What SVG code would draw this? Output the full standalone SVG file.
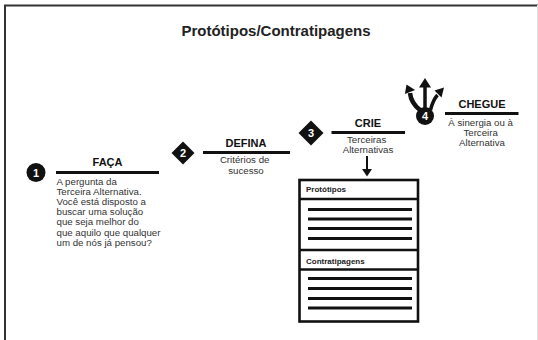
<svg xmlns="http://www.w3.org/2000/svg" width="538" height="340" viewBox="0 0 538 340">
  <style>
    .title { font: bold 15px "Liberation Sans", Arial, sans-serif; fill: #222; }
    .head { font: bold 11px "Liberation Sans", Arial, sans-serif; fill: #111; }
    .body { font: 9.7px "Liberation Sans", Arial, sans-serif; fill: #333; }
    .num { font: bold 11px "Liberation Sans", Arial, sans-serif; fill: #fff; }
    .tab { font: bold 8px "Liberation Sans", Arial, sans-serif; fill: #222; }
    .rule { stroke: #111; stroke-width: 3; fill: none; }
    .bar { stroke: #111; stroke-width: 2.6; }
  </style>

  <rect width="538" height="340" fill="#fff"/>
  <!-- frame -->
  <path d="M5,340 V5.5 H538" fill="none" stroke="#333" stroke-width="2"/>
  <line x1="537.5" y1="5" x2="537.5" y2="340" stroke="#ddd" stroke-width="1"/>

  <text class="title" x="276" y="36" text-anchor="middle">Protótipos/Contratipagens</text>

  <!-- step 1 -->
  <g id="step1">
    <circle cx="36" cy="172.5" r="9.5" fill="#111"/>
    <text class="num" x="36" y="176.5" text-anchor="middle">1</text>
    <text class="head" x="107.5" y="166" text-anchor="middle">FAÇA</text>
    <line class="rule" x1="56" y1="172.5" x2="159" y2="172.5"/>
    <text class="body" x="56.5" y="184.5">
      <tspan x="56.5" dy="0">A pergunta da</tspan>
      <tspan x="56.5" dy="10.2">Terceira Alternativa.</tspan>
      <tspan x="56.5" dy="10.2">Você está disposto a</tspan>
      <tspan x="56.5" dy="10.2">buscar uma solução</tspan>
      <tspan x="56.5" dy="10.2">que seja melhor do</tspan>
      <tspan x="56.5" dy="10.2">que aquilo que qualquer</tspan>
      <tspan x="56.5" dy="10.2">um de nós já pensou?</tspan>
    </text>
  </g>

  <!-- step 2 -->
  <g id="step2">
    <path d="M183,141.5 L194.5,153 L183,164.5 L171.5,153 z" fill="#111"/>
    <text class="num" x="183" y="157" text-anchor="middle">2</text>
    <text class="head" x="246" y="146.5" text-anchor="middle">DEFINA</text>
    <line class="rule" x1="203" y1="152.5" x2="290" y2="152.5"/>
    <text class="body" x="246" y="162.5" text-anchor="middle">
      <tspan x="246" dy="0">Critérios de</tspan>
      <tspan x="246" dy="11">sucesso</tspan>
    </text>
  </g>

  <!-- step 3 -->
  <g id="step3">
    <path d="M311,120.5 L323.5,133 L311,145.5 L298.5,133 z" fill="#111"/>
    <text class="num" x="311" y="137" text-anchor="middle">3</text>
    <text class="head" x="368" y="126.5" text-anchor="middle">CRIE</text>
    <line class="rule" x1="331.5" y1="132.5" x2="405" y2="132.5"/>
    <text class="body" x="368" y="143" text-anchor="middle">
      <tspan x="368" dy="0">Terceiras</tspan>
      <tspan x="368" dy="9.6">Alternativas</tspan>
    </text>
  </g>

  <!-- step 4 -->
  <g id="step4">
    <circle cx="425" cy="116" r="9" fill="#111"/>
    <text class="num" x="425" y="120" text-anchor="middle">4</text>
    <text class="head" x="482" y="107.5" text-anchor="middle">CHEGUE</text>
    <line class="rule" x1="445" y1="113.5" x2="518.5" y2="113.5"/>
    <text class="body" x="482" y="125.5" text-anchor="middle">
      <tspan x="482" dy="0">À sinergia ou à</tspan>
      <tspan x="482" dy="10.4">Terceira</tspan>
      <tspan x="482" dy="10.4">Alternativa</tspan>
    </text>
  </g>

  <!-- prototype / counter-type sheet -->
  <g id="sheet">
    <rect x="299.5" y="180" width="118.5" height="141.5" fill="#fff" stroke="#111" stroke-width="2.6"/>
    <line class="bar" x1="299.5" y1="199" x2="418" y2="199"/>
    <line class="bar" x1="299.5" y1="250" x2="418" y2="250"/>
    <line class="bar" x1="299.5" y1="269.5" x2="418" y2="269.5"/>
    <text class="tab" x="306" y="192">Protótipos</text>
    <text class="tab" x="306" y="264">Contratipagens</text>
    <g stroke="#111" stroke-width="3">
      <line x1="308" y1="209.5" x2="412" y2="209.5"/>
      <line x1="308" y1="219" x2="412" y2="219"/>
      <line x1="308" y1="228.5" x2="412" y2="228.5"/>
      <line x1="308" y1="238.5" x2="412" y2="238.5"/>
      <line x1="308" y1="278.5" x2="412" y2="278.5"/>
      <line x1="308" y1="288.5" x2="412" y2="288.5"/>
      <line x1="308" y1="298.5" x2="412" y2="298.5"/>
      <line x1="308" y1="308" x2="412" y2="308"/>
    </g>
  </g>

  <!-- connectors -->
  <g id="connectors" fill="none" stroke="#111">
    <line x1="367" y1="156" x2="367" y2="170" stroke-width="2"/>
    <path d="M362,169 L372,169 L367,176.5 z" fill="#111" stroke="none"/>
    <!-- branching arrows above step 4 -->
    <path d="M425,108 V86" stroke-width="3.5"/>
    <path d="M419,87.5 L431,87.5 L425,78 z" fill="#111" stroke="none"/>
    <path d="M420,110 Q411,103 410,93" stroke-width="4.5"/>
    <path d="M415.1,89.9 L404.9,94.1 L406.5,84.5 z" fill="#111" stroke="none"/>
    <path d="M430.5,110 Q433,100 437.5,95" stroke-width="3.5"/>
    <path d="M441.5,97.5 L434.5,90.5 L444,87.5 z" fill="#111" stroke="none"/>
  </g>
</svg>
